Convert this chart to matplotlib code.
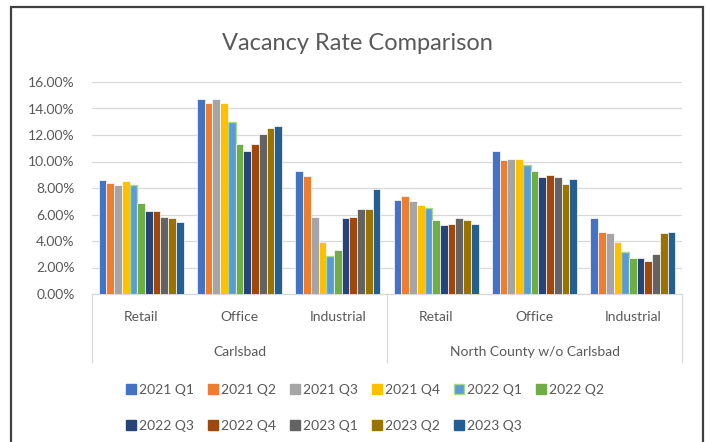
import numpy as np
import matplotlib
matplotlib.use('Agg')
import matplotlib.pyplot as plt
import matplotlib.transforms as mtransforms
from matplotlib.patches import Rectangle, Patch
from matplotlib.ticker import FuncFormatter

plt.rcParams['font.family'] = ['Lato', 'DejaVu Sans']

# data
regions = ['Carlsbad', 'North County w/o Carlsbad']
sectors = ['Retail', 'Office', 'Industrial']
quarters = ['2021 Q1', '2021 Q2', '2021 Q3', '2021 Q4', '2022 Q1', '2022 Q2',
            '2022 Q3', '2022 Q4', '2023 Q1', '2023 Q2', '2023 Q3']

carlsbad_retail = [8.6, 8.4, 8.2, 8.5, 8.2, 6.9, 6.3, 6.3, 5.8, 5.7, 5.4]
carlsbad_office = [14.7, 14.4, 14.7, 14.4, 13.0, 11.3, 10.8, 11.3, 12.1, 12.5, 12.7]
carlsbad_industrial = [9.3, 8.9, 5.8, 3.9, 2.9, 3.3, 5.7, 5.8, 6.4, 6.4, 7.9]
nc_retail = [7.1, 7.4, 7.0, 6.7, 6.5, 5.6, 5.2, 5.3, 5.7, 5.6, 5.3]
nc_office = [10.8, 10.1, 10.2, 10.2, 9.7, 9.3, 8.8, 9.0, 8.8, 8.3, 8.7]
nc_industrial = [5.7, 4.7, 4.6, 3.9, 3.2, 2.7, 2.7, 2.5, 3.0, 4.6, 4.7]

colors = ['#4472C4', '#ED7D31', '#A5A5A5', '#FFC000', '#5B9BD5', '#70AD47',
          '#264478', '#9E480E', '#636363', '#997300', '#255E91']
edges = ['white'] * 11
edges[4] = '#A9D98E'

text_col = '#595959'
grid_col = '#D9D9D9'

groups = [carlsbad_retail, carlsbad_office, carlsbad_industrial,
          nc_retail, nc_office, nc_industrial]
vals = np.array(groups) / 100.0  # shape (6, 11)

W, H = 707, 442
fig = plt.figure(figsize=(W / 100, H / 100), dpi=100)
ax = fig.add_axes([92 / W, (H - 294) / H, (682 - 92) / W, (294 - 82) / H])

bw = 0.0786
xc = np.arange(len(groups)) + 0.5
for j, q in enumerate(quarters):
    lw = 1.0 if j == 4 else 0.5
    ax.bar(xc + (j - 5) * bw, vals[:, j], width=bw, color=colors[j],
           edgecolor=edges[j], linewidth=lw, label=q, zorder=3)

ax.set_xlim(0, 6)
ax.set_ylim(0, 0.16)
ax.set_yticks(np.arange(0, 0.161, 0.02))
ax.yaxis.set_major_formatter(FuncFormatter(lambda v, p: '{:.2f}%'.format(v * 100)))
ax.grid(axis='y', color=grid_col, linewidth=0.9, zorder=0)
ax.tick_params(axis='y', length=0, labelsize=10, labelcolor=text_col, pad=12.5)
ax.set_xticks([])
for s in ['left', 'right', 'top']:
    ax.spines[s].set_visible(False)
ax.spines['bottom'].set_color(grid_col)
ax.spines['bottom'].set_linewidth(0.9)

# two-level category axis
trans = mtransforms.blended_transform_factory(ax.transData, ax.transAxes)
low = -(362 - 294) / (294 - 82)
for xv in [0, 3, 6]:
    ax.plot([xv, xv], [0, low], transform=trans, color=grid_col, lw=0.9, clip_on=False)
for i, s in enumerate(sectors * 2):
    ax.text(xc[i], -(317 - 294) / (294 - 82), s, transform=trans, ha='center', va='center',
            fontsize=10, color=text_col)
for i, r in enumerate(regions):
    ax.text(1.5 + 3 * i, -(352 - 294) / (294 - 82), r, transform=trans, ha='center', va='center',
            fontsize=10, color=text_col)

fig.text(357 / W, 1 - 43 / H, 'Vacancy Rate Comparison', ha='center', va='center',
         fontsize=17, color=text_col)

# legend filled row by row (matplotlib fills column-wise)
order = [0, 6, 1, 7, 2, 8, 3, 9, 4, 10, 5]
handles = [Patch(facecolor=colors[j], edgecolor=(edges[j] if j == 4 else colors[j]),
                 linewidth=1.0) for j in order]
fig.legend(handles, [quarters[j] for j in order], loc='upper left',
           bbox_to_anchor=(126 / W, 1 - 384 / H),
           ncol=6, frameon=False, fontsize=10, labelcolor=text_col,
           handlelength=0.7, handleheight=0.7, handletextpad=0.25,
           columnspacing=1.0, labelspacing=1.7, borderaxespad=0, borderpad=0)

# outer frame
fig.patches.append(Rectangle((11 / W, -0.05), (703 - 11) / W, 1 - 7 / H + 0.05,
                             transform=fig.transFigure, fill=False,
                             edgecolor='#404040', linewidth=1.6))

fig.savefig('out.png', dpi=100)
